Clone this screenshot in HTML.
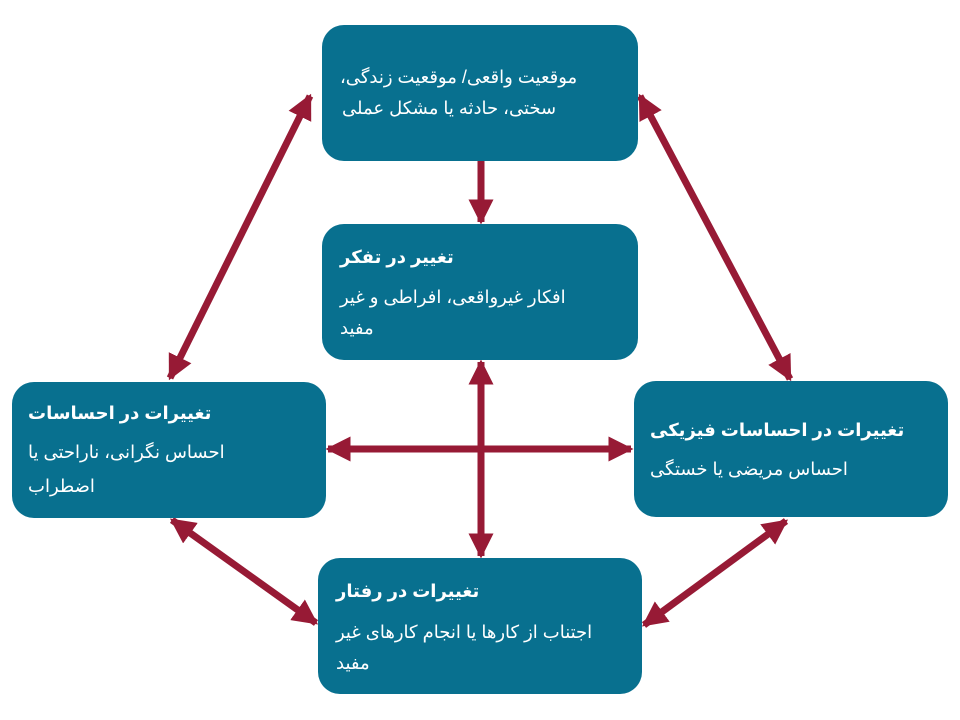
<!DOCTYPE html>
<html><head><meta charset="utf-8"><style>
body{margin:0;width:960px;height:720px;background:#fff;position:relative;overflow:hidden;font-family:"Liberation Sans","DejaVu Sans",sans-serif}
.b{position:absolute;background:#08708f;border-radius:22px}
.t{position:absolute;color:#fff;font-size:18px;direction:rtl;text-align:left;white-space:nowrap;line-height:22px}
.h{font-weight:bold}
svg{position:absolute;left:0;top:0}
</style></head><body>
<svg width="960" height="720">
<defs>
<marker id="a" viewBox="0 0 10 10" refX="9" refY="5" markerWidth="3.6" markerHeight="3.6" orient="auto-start-reverse"><path d="M0,0 L10,5 L0,10z" fill="#971a35"/></marker>
</defs>
<g stroke="#971a35" stroke-width="7" fill="none">
<line x1="481" y1="161" x2="481" y2="222" marker-end="url(#a)"/>
<line x1="310" y1="96" x2="170" y2="378" marker-start="url(#a)" marker-end="url(#a)"/>
<line x1="640" y1="96" x2="790" y2="379" marker-start="url(#a)" marker-end="url(#a)"/>
<line x1="328" y1="449" x2="631" y2="449" marker-start="url(#a)" marker-end="url(#a)"/>
<line x1="481" y1="362" x2="481" y2="556" marker-start="url(#a)" marker-end="url(#a)"/>
<line x1="172" y1="520" x2="316" y2="623" marker-start="url(#a)" marker-end="url(#a)"/>
<line x1="786" y1="521" x2="644" y2="625" marker-start="url(#a)" marker-end="url(#a)"/>
</g>
</svg>
<div class="b" style="left:322px;top:25px;width:316px;height:136px"></div>
<div class="b" style="left:322px;top:224px;width:316px;height:136px"></div>
<div class="b" style="left:12px;top:382px;width:314px;height:136px"></div>
<div class="b" style="left:634px;top:381px;width:314px;height:136px"></div>
<div class="b" style="left:318px;top:558px;width:324px;height:136px"></div>

<div class="t" style="left:340px;top:66px">موقعیت واقعی/ موقعیت زندگی،</div>
<div class="t" style="left:342px;top:97px">سختی، حادثه یا مشکل عملی</div>

<div class="t h" style="left:340px;top:246px">تغییر در تفکر</div>
<div class="t" style="left:340px;top:286px">افکار غیرواقعی، افراطی و غیر</div>
<div class="t" style="left:340px;top:317px">مفید</div>

<div class="t h" style="left:28px;top:402px">تغییرات در احساسات</div>
<div class="t" style="left:28px;top:441px">احساس نگرانی، ناراحتی یا</div>
<div class="t" style="left:28px;top:475px">اضطراب</div>

<div class="t h" style="left:650px;top:419px">تغییرات در احساسات فیزیکی</div>
<div class="t" style="left:650px;top:458px">احساس مریضی یا خستگی</div>

<div class="t h" style="left:336px;top:580px">تغییرات در رفتار</div>
<div class="t" style="left:336px;top:621px">اجتناب از کارها یا انجام کارهای غیر</div>
<div class="t" style="left:336px;top:652px">مفید</div>
</body></html>
